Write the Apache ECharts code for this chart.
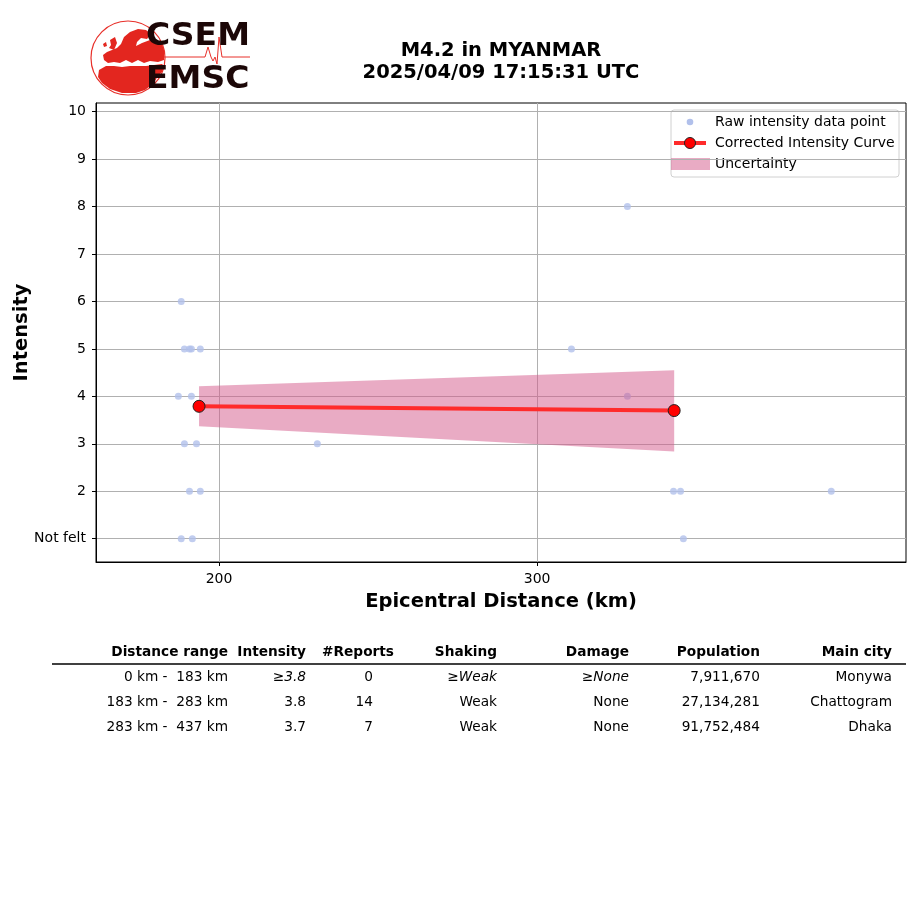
<!DOCTYPE html>
<html>
<head>
<meta charset="utf-8">
<script src="https://cdn.jsdelivr.net/npm/echarts@6/dist/echarts.min.js"></script>
<style>
html,body{margin:0;padding:0;background:#fff;}
#chart{width:915px;height:905px;}
</style>
</head>
<body>
<div id="chart"></div>
<script>
// ---------------- data ----------------
const titleLines = ['M4.2 in MYANMAR', '2025/04/09 17:15:31 UTC'];
const createdText = 'created by EMSC on 2025-04-10 16:37:10 UTC';
const xLabel = 'Epicentral Distance (km)';
const yLabel = 'Intensity';
const xTicks = [200, 300];
const yTicks = [1, 2, 3, 4, 5, 6, 7, 8, 9, 10];
const yTickLabels = ['Not felt', '2', '3', '4', '5', '6', '7', '8', '9', '10'];

const rawDistance = [188.1, 189.1, 190.7, 191.3, 194.1, 187.2, 191.3, 189.1, 192.9, 230.9, 190.7, 194.1, 188.1, 191.6,
                     328.4, 310.8, 328.4, 342.9, 345.1, 392.5, 346.0];
const rawIntensity = [6, 5, 5, 5, 5, 4, 4, 3, 3, 3, 2, 2, 1, 1,
                      8, 5, 4, 2, 2, 2, 1];

const curveDistance = [193.7, 343.1];
const curveIntensity = [3.79, 3.70];
const bandLow = [3.37, 2.84];
const bandHigh = [4.21, 4.55];

const legendNames = ['Raw intensity data point', 'Corrected Intensity Curve', 'Uncertainty'];

const tableHeader = ['Distance range', 'Intensity', '#Reports', 'Shaking', 'Damage', 'Population', 'Main city'];
const tableRow1 = ['0 km -  183 km', '≥3.8', '0', '≥Weak', '≥None', '7,911,670', 'Monywa'];
const tableRow2 = ['183 km -  283 km', '3.8', '14', 'Weak', 'None', '27,134,281', 'Chattogram'];
const tableRow3 = ['283 km -  437 km', '3.7', '7', 'Weak', 'None', '91,752,484', 'Dhaka'];
const tableRows = [tableRow1, tableRow2, tableRow3];

// ---------------- style constants ----------------
const FONT = '"DejaVu Sans", sans-serif';
const SCATTER_COLOR = '#b1c0eb';
const LINE_COLOR = '#ff2b2b';
const BAND_COLOR = 'rgba(211,87,137,0.5)';
const TFS = '13.7px ';

const chart = echarts.init(document.getElementById('chart'), null, {renderer: 'canvas'});

const scatterData = rawDistance.map((d, i) => [d, rawIntensity[i]]);
const curveData = curveDistance.map((d, i) => [d, curveIntensity[i]]);
const bandData = curveDistance.map((d, i) => [d, bandLow[i], bandHigh[i]]);

// table graphics
const colRight = [228, 306, 394, 497, 629, 760, 892];
const rowRight = [228, 306, 373, 497, 629, 760, 892];
const tableGraphics = [];
tableHeader.forEach((h, c) => {
  tableGraphics.push({
    type: 'text', x: colRight[c], y: 652,
    style: {text: h, font: 'bold ' + TFS + FONT, fill: '#000', align: 'right', verticalAlign: 'middle'}
  });
});
tableGraphics.push({type: 'line', shape: {x1: 52, y1: 664, x2: 906, y2: 664}, style: {stroke: '#000', lineWidth: 1.3}});
tableRows.forEach((row, r) => {
  row.forEach((v, c) => {
    let rich = {
      n: {font: TFS + FONT, fill: '#000'},
      i: {font: 'italic ' + TFS + FONT, fill: '#000'}
    };
    let txt = v.charAt(0) === '≥' ? '{n|≥}{i|' + v.slice(1) + '}' : '{n|' + v + '}';
    tableGraphics.push({
      type: 'text', x: rowRight[c], y: 677 + r * 25,
      style: {text: txt, rich: rich, align: 'right', verticalAlign: 'middle'}
    });
  });
});

// logo graphics
const RED = '#e3261f';
const logo = [
  {type: 'circle', shape: {cx: 128, cy: 58, r: 37}, style: {fill: 'none', stroke: '#e8302a', lineWidth: 1.2}},
  // Europe
  {type: 'polygon', shape: {points: [
    [121,44],[124,37],[130,32],[138,29],[146,30],[151,34],[147,39],[141,38],[137,42],[136,46],
    [142,43],[150,40],[157,40],[162,44],[164,50],[164,60],[158,62],[150,61],[144,63],[138,60],
    [132,63],[126,60],[120,63],[114,62],[108,63],[104,60],[103,55],[107,52],[112,50],[117,48]
  ]}, style: {fill: RED}},
  // Africa / Middle East
  {type: 'polygon', shape: {points: [
    [99,70],[106,66],[114,66],[122,67],[130,66],[138,66],[146,66],[154,65],[162,64],[164,66],
    [162,72],[158,76],[153,84],[145,90],[136,93],[122,93],[110,89],[102,83],[98,77]
  ]}, style: {fill: RED}},
  {type: 'polygon', shape: {points: [[110,40],[115,37],[117,43],[114,50],[109,48],[111,45]]}, style: {fill: RED}},
  {type: 'polygon', shape: {points: [[103,44],[106,42],[107,46],[104,47]]}, style: {fill: RED}},
  {type: 'polyline', shape: {points: [[164,57],[205,57],[208,47],[211,57],[213,61],[215,57],[217,64],[219,37],[222,57],[250,57]]},
   style: {stroke: '#e8302a', lineWidth: 1, fill: 'none'}},
  {type: 'text', x: 146, y: 37, scaleY: 0.95,
   style: {text: 'CSEM', font: 'bold 33px ' + FONT, fill: '#1c0707', verticalAlign: 'middle'}},
  {type: 'text', x: 146, y: 80, scaleY: 0.95,
   style: {text: 'EMSC', font: 'bold 33px ' + FONT, fill: '#1c0707', verticalAlign: 'middle'}}
];

// legend graphics
const legendG = [
  {type: 'rect', shape: {x: 671, y: 110, width: 228, height: 67, r: 3}, style: {fill: 'rgba(255,255,255,0.8)', stroke: '#d0d0d0', lineWidth: 1}},
  {type: 'circle', shape: {cx: 690, cy: 122, r: 3.3}, style: {fill: SCATTER_COLOR}},
  {type: 'text', x: 715, y: 122, style: {text: legendNames[0], font: '14px ' + FONT, fill: '#000', verticalAlign: 'middle'}},
  {type: 'line', shape: {x1: 674, y1: 143, x2: 706, y2: 143}, style: {stroke: LINE_COLOR, lineWidth: 4}},
  {type: 'circle', shape: {cx: 690, cy: 143, r: 5.5}, style: {fill: '#ff0000', stroke: '#222', lineWidth: 1}},
  {type: 'text', x: 715, y: 143, style: {text: legendNames[1], font: '14px ' + FONT, fill: '#000', verticalAlign: 'middle'}},
  {type: 'rect', shape: {x: 671, y: 158, width: 39, height: 12}, style: {fill: BAND_COLOR}},
  {type: 'text', x: 715, y: 164, style: {text: legendNames[2], font: '14px ' + FONT, fill: '#000', verticalAlign: 'middle'}}
];

const option = {
  animation: false,
  backgroundColor: '#fff',
  textStyle: {fontFamily: FONT},
  title: {
    text: titleLines.join('\n'),
    left: 496, top: 35, textAlign: 'center',
    textStyle: {fontFamily: FONT, fontWeight: 'bold', fontSize: 19.5, color: '#000', lineHeight: 22}
  },
  grid: {left: 96, right: 9, top: 103, bottom: 343, show: true, borderColor: '#000', borderWidth: 1,
         backgroundColor: 'transparent', containLabel: false, outerBoundsMode: 'none'},
  xAxis: {
    type: 'value', min: 161.3, max: 416,
    name: xLabel, nameLocation: 'middle', nameGap: 30, nameMoveOverlap: false,
    nameTextStyle: {fontFamily: FONT, fontWeight: 'bold', fontSize: 19.5, color: '#000'},
    axisLine: {show: true, lineStyle: {color: '#000', width: 1}},
    axisTick: {show: true, length: 4, lineStyle: {color: '#000'}, customValues: xTicks},
    axisLabel: {fontFamily: FONT, fontSize: 14, color: '#000', margin: 10, customValues: xTicks},
    splitLine: {show: true, lineStyle: {color: '#b0b0b0', width: 1}}
  },
  yAxis: {
    type: 'value', min: 0.51, max: 10.18,
    name: yLabel, nameLocation: 'middle', nameGap: 64, nameRotate: 90, nameMoveOverlap: false,
    nameTextStyle: {fontFamily: FONT, fontWeight: 'bold', fontSize: 19.5, color: '#000'},
    axisLine: {show: true, lineStyle: {color: '#000', width: 1}},
    axisTick: {show: true, length: 4, lineStyle: {color: '#000'}, customValues: yTicks},
    axisLabel: {fontFamily: FONT, fontSize: 14, color: '#000', margin: 10, customValues: yTicks,
      formatter: v => yTickLabels[yTicks.indexOf(Math.round(v))]},
    splitLine: {show: true, lineStyle: {color: '#b0b0b0', width: 1}}
  },
  series: [
    {
      name: legendNames[0], type: 'scatter', data: scatterData,
      symbol: 'circle', symbolSize: 7, itemStyle: {color: SCATTER_COLOR}, z: 2
    },
    {
      name: legendNames[2], type: 'custom', data: bandData, z: 3,
      renderItem: function (params, api) {
        if (params.dataIndex !== 0) return null;
        const top = bandData.map(d => api.coord([d[0], d[2]]));
        const bot = bandData.map(d => api.coord([d[0], d[1]])).reverse();
        return {type: 'polygon', shape: {points: top.concat(bot)}, style: {fill: BAND_COLOR}};
      }
    },
    {
      name: legendNames[1], type: 'line', data: curveData, z: 4,
      lineStyle: {color: LINE_COLOR, width: 4},
      symbol: 'circle', symbolSize: 12,
      itemStyle: {color: '#ff0000', borderColor: '#222', borderWidth: 1}
    }
  ],
  graphic: [
    {type: 'text', x: 24, y: 205, rotation: Math.PI / 2, originX: 24, originY: 205,
     style: {text: createdText, font: '8.6px ' + FONT, fill: '#8a8a8a', verticalAlign: 'top'}}
  ].concat(logo, legendG, tableGraphics)
};
chart.setOption(option);
</script>
</body>
</html>
